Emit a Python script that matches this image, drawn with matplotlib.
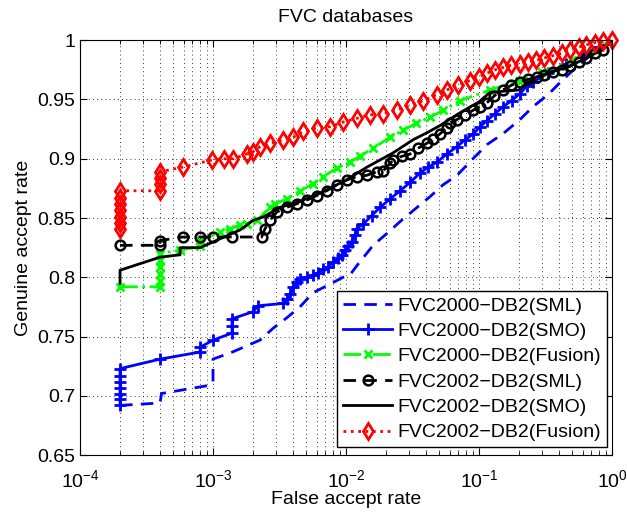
import matplotlib
matplotlib.use("Agg")
import matplotlib.pyplot as plt

plt.rcParams['font.family'] = ['Liberation Sans', 'DejaVu Sans']
plt.rcParams['mathtext.fontset'] = 'custom'
plt.rcParams['mathtext.rm'] = 'Liberation Sans'

# ---- data (FAR, GAR) ----
sml00_far = [2e-4, 4e-4, 4.1e-4, 9.5e-4, 1e-3, 1e-3, 1.4e-3, 2.25e-3, 2.83e-3, 3.6e-3, 4.5e-3,
             5.65e-3, 7.2e-3, 9.5e-3, 1.07e-2, 1.21e-2, 1.6e-2, 2.03e-2, 2.55e-2, 3.42e-2, 4.28e-2,
             5.36e-2, 6.84e-2, 9.0e-2, 0.115, 0.151, 0.203, 0.255, 0.33, 0.421, 0.574, 0.745, 1.0]
sml00_gar = [0.692, 0.694, 0.702, 0.709, 0.711, 0.731, 0.737, 0.747, 0.757, 0.766, 0.775,
             0.787, 0.793, 0.800, 0.802, 0.810, 0.827, 0.837, 0.847, 0.859, 0.868,
             0.878, 0.886, 0.900, 0.912, 0.921, 0.933, 0.944, 0.954, 0.966, 0.980, 0.990, 1.0]

smo00_far = [2e-4, 2e-4, 2e-4, 2e-4, 2e-4, 2e-4, 2e-4, 4e-4, 8e-4, 8e-4, 1e-3, 1.39e-3, 1.39e-3,
             1.39e-3, 2e-3, 2.18e-3, 3.38e-3, 3.62e-3, 3.8e-3, 4.02e-3, 4.26e-3, 4.51e-3, 5.06e-3,
             5.68e-3, 6.19e-3, 6.75e-3, 7.36e-3, 8.03e-3, 8.76e-3, 9.27e-3, 9.82e-3, 1.04e-2,
             1.1e-2, 1.17e-2, 1.2e-2, 1.35e-2, 1.56e-2, 1.8e-2, 2.14e-2, 2.55e-2, 3.03e-2, 3.6e-2,
             4.16e-2, 4.81e-2, 5.72e-2, 6.8e-2, 7.85e-2, 9.06e-2, 0.102, 0.114, 0.132, 0.152,
             0.176, 0.203, 0.228, 0.256, 0.33, 0.45, 0.62, 0.8, 1.0]
smo00_gar = [0.692, 0.697, 0.702, 0.707, 0.712, 0.717, 0.723, 0.731, 0.737, 0.741, 0.747, 0.753,
             0.759, 0.765, 0.771, 0.776, 0.778, 0.782, 0.786, 0.792, 0.796, 0.799, 0.800,
             0.802, 0.804, 0.807, 0.809, 0.813, 0.816, 0.819, 0.823, 0.826,
             0.830, 0.836, 0.841, 0.845, 0.852, 0.859, 0.866, 0.873, 0.880, 0.888,
             0.893, 0.897, 0.904, 0.910, 0.916, 0.921, 0.927, 0.932, 0.938, 0.944,
             0.949, 0.955, 0.961, 0.965, 0.972, 0.980, 0.988, 0.994, 1.0]

fus00_far = [2e-4, 4e-4, 4e-4, 4e-4, 4e-4, 4e-4, 4e-4, 5.65e-4, 8e-4, 8e-4, 1.13e-3, 1.34e-3,
             1.59e-3, 1.79e-3, 2.14e-3, 2.68e-3, 2.92e-3, 3.58e-3, 4.51e-3, 5.68e-3, 6.75e-3,
             8.5e-3, 1.07e-2, 1.27e-2, 1.6e-2, 2.14e-2, 2.68e-2, 3.38e-2, 4.28e-2, 5.39e-2,
             7.2e-2, 0.121, 0.2, 0.3, 0.5, 0.75, 1.0]
fus00_gar = [0.792, 0.792, 0.797, 0.803, 0.809, 0.815, 0.820, 0.823, 0.826, 0.831, 0.838, 0.841,
             0.844, 0.845, 0.848, 0.859, 0.862, 0.866, 0.873, 0.879, 0.885,
             0.892, 0.897, 0.902, 0.909, 0.918, 0.924, 0.930, 0.935, 0.941,
             0.949, 0.958, 0.966, 0.973, 0.983, 0.992, 1.0]

sml02_far = [2e-4, 4e-4, 4e-4, 5.9e-4, 8e-4, 1e-3, 1.39e-3, 2.32e-3, 2.46e-3, 2.68e-3, 3.01e-3,
             3.58e-3, 4.26e-3, 5.06e-3, 6.02e-3, 7.16e-3, 8.5e-3, 1.01e-2, 1.2e-2, 1.43e-2, 1.7e-2,
             1.91e-2, 2.14e-2, 2.27e-2, 2.62e-2, 3.03e-2, 3.5e-2, 4.05e-2, 4.54e-2, 5.09e-2,
             5.72e-2, 6.05e-2, 6.8e-2, 7.9e-2, 9.06e-2, 0.102, 0.114, 0.13, 0.151, 0.175, 0.203,
             0.235, 0.273, 0.31, 0.36, 0.42, 0.483, 0.56, 0.64, 0.74, 0.855, 1.0]
sml02_gar = [0.827, 0.827, 0.831, 0.834, 0.834, 0.834, 0.834, 0.834, 0.841, 0.848, 0.855,
             0.859, 0.862, 0.865, 0.869, 0.873, 0.878, 0.882, 0.885, 0.886, 0.889,
             0.890, 0.896, 0.899, 0.902, 0.904, 0.909, 0.913, 0.917, 0.921,
             0.926, 0.930, 0.933, 0.937, 0.941, 0.944, 0.947, 0.953, 0.958, 0.962, 0.965,
             0.967, 0.969, 0.971, 0.973, 0.975, 0.978, 0.982, 0.985, 0.989, 0.992, 1.0]

smo02_far = [2e-4, 2e-4, 4e-4, 5.65e-4, 5.65e-4, 8e-4, 1.6e-3, 2e-3, 2.4e-3, 3.19e-3, 4.5e-3,
             6.4e-3, 1e-2, 1.44e-2, 2.26e-2, 3.19e-2, 4.07e-2, 5.09e-2, 7e-2, 0.1, 0.121, 0.2,
             0.22, 0.27, 0.48, 0.85, 1.0]
smo02_gar = [0.795, 0.806, 0.817, 0.819, 0.825, 0.825, 0.840, 0.848, 0.851, 0.859, 0.864,
             0.871, 0.882, 0.893, 0.905, 0.916, 0.922, 0.928, 0.938, 0.948, 0.956, 0.958,
             0.962, 0.969, 0.978, 0.992, 1.0]

fus02_far = [2e-4, 2e-4, 2e-4, 2e-4, 2e-4, 2e-4, 2e-4, 4e-4, 4e-4, 4e-4, 4e-4, 5.97e-4, 9.8e-4,
             1.2e-3, 1.42e-3, 1.79e-3, 2.0e-3, 2.25e-3, 2.68e-3, 3.38e-3, 4.0e-3, 4.76e-3,
             6.02e-3, 7.58e-3, 9.55e-3, 1.2e-2, 1.51e-2, 1.91e-2, 2.41e-2, 3.03e-2, 3.81e-2,
             4.81e-2, 5.72e-2, 7e-2, 8.55e-2, 0.1, 0.114, 0.132, 0.152, 0.175, 0.203, 0.235,
             0.27, 0.31, 0.36, 0.42, 0.483, 0.56, 0.64, 0.74, 0.86, 1.0]
fus02_gar = [0.841, 0.846, 0.851, 0.857, 0.862, 0.867, 0.873, 0.873, 0.879, 0.884, 0.889, 0.893,
             0.899, 0.900, 0.900, 0.904, 0.906, 0.910, 0.913, 0.916, 0.918, 0.923,
             0.926, 0.927, 0.931, 0.934, 0.937, 0.938, 0.941, 0.945, 0.949,
             0.954, 0.958, 0.962, 0.966, 0.969, 0.972, 0.975, 0.977, 0.979, 0.980, 0.982,
             0.983, 0.985, 0.987, 0.989, 0.992, 0.994, 0.996, 0.998, 0.999, 1.0]

labels = ['FVC2000\u2212DB2(SML)', 'FVC2000\u2212DB2(SMO)', 'FVC2000\u2212DB2(Fusion)',
          'FVC2002\u2212DB2(SML)', 'FVC2002\u2212DB2(SMO)', 'FVC2002\u2212DB2(Fusion)']
ytick_vals = [0.65, 0.7, 0.75, 0.8, 0.85, 0.9, 0.95, 1.0]
ytick_labels = ['0.65', '0.7', '0.75', '0.8', '0.85', '0.9', '0.95', '1']
xtick_vals = [1e-4, 1e-3, 1e-2, 1e-1, 1e0]

fig = plt.figure(figsize=(6.27, 5.12), dpi=100)
ax = fig.add_axes([0.1276, 0.111, 0.8485, 0.8105])

fs = 14
ax.plot(sml00_far, sml00_gar, color='b', lw=2, dashes=(4.5, 3), label=labels[0])
ax.plot(smo00_far, smo00_gar, color='b', lw=2, marker='+', ms=8, mew=2, label=labels[1])
ax.plot(fus00_far, fus00_gar, color='#00ff00', lw=2, ls='-.', marker='x', ms=6, mew=2, label=labels[2])
ax.plot(sml02_far, sml02_gar, color='k', lw=2, dashes=(4.5, 3), marker='o', ms=7, mew=1.8,
        mfc='none', label=labels[3])
ax.plot(smo02_far, smo02_gar, color='k', lw=2, label=labels[4])
ax.plot(fus02_far, fus02_gar, color='r', lw=2, ls=':', marker='d', ms=8, mew=2, mfc='none',
        label=labels[5], clip_on=False)

ax.set_xscale('log')
ax.set_xlim(1e-4, 1)
ax.set_ylim(0.65, 1)
ax.set_xticks(xtick_vals)
ax.set_yticks(ytick_vals)
ax.set_yticklabels(ytick_labels)

ax.grid(True, which='major', color='k', ls=(0, (1, 4)), lw=0.6)
ax.grid(True, which='minor', axis='x', color='k', ls=(0, (1, 4)), lw=0.6)
ax.tick_params(which='both', direction='in', top=True, right=True, labelsize=fs)
ax.tick_params(which='major', length=5)
ax.tick_params(which='minor', length=3)
ax.tick_params(axis='x', which='major', pad=10)

ax.set_title('FVC databases', fontsize=fs, pad=13)
ax.set_xlabel('False accept rate', fontsize=fs, labelpad=0)
ax.set_ylabel('Genuine accept rate', fontsize=fs, labelpad=4)

leg = ax.legend(loc='lower right', bbox_to_anchor=(0.991, 0.019), borderaxespad=0,
                fontsize=fs, fancybox=False, framealpha=1, edgecolor='k',
                handlelength=2.5, handletextpad=0.3, labelspacing=0.4, borderpad=0.3)
leg.get_frame().set_linewidth(1)

fig.savefig('out.png', dpi=100)
